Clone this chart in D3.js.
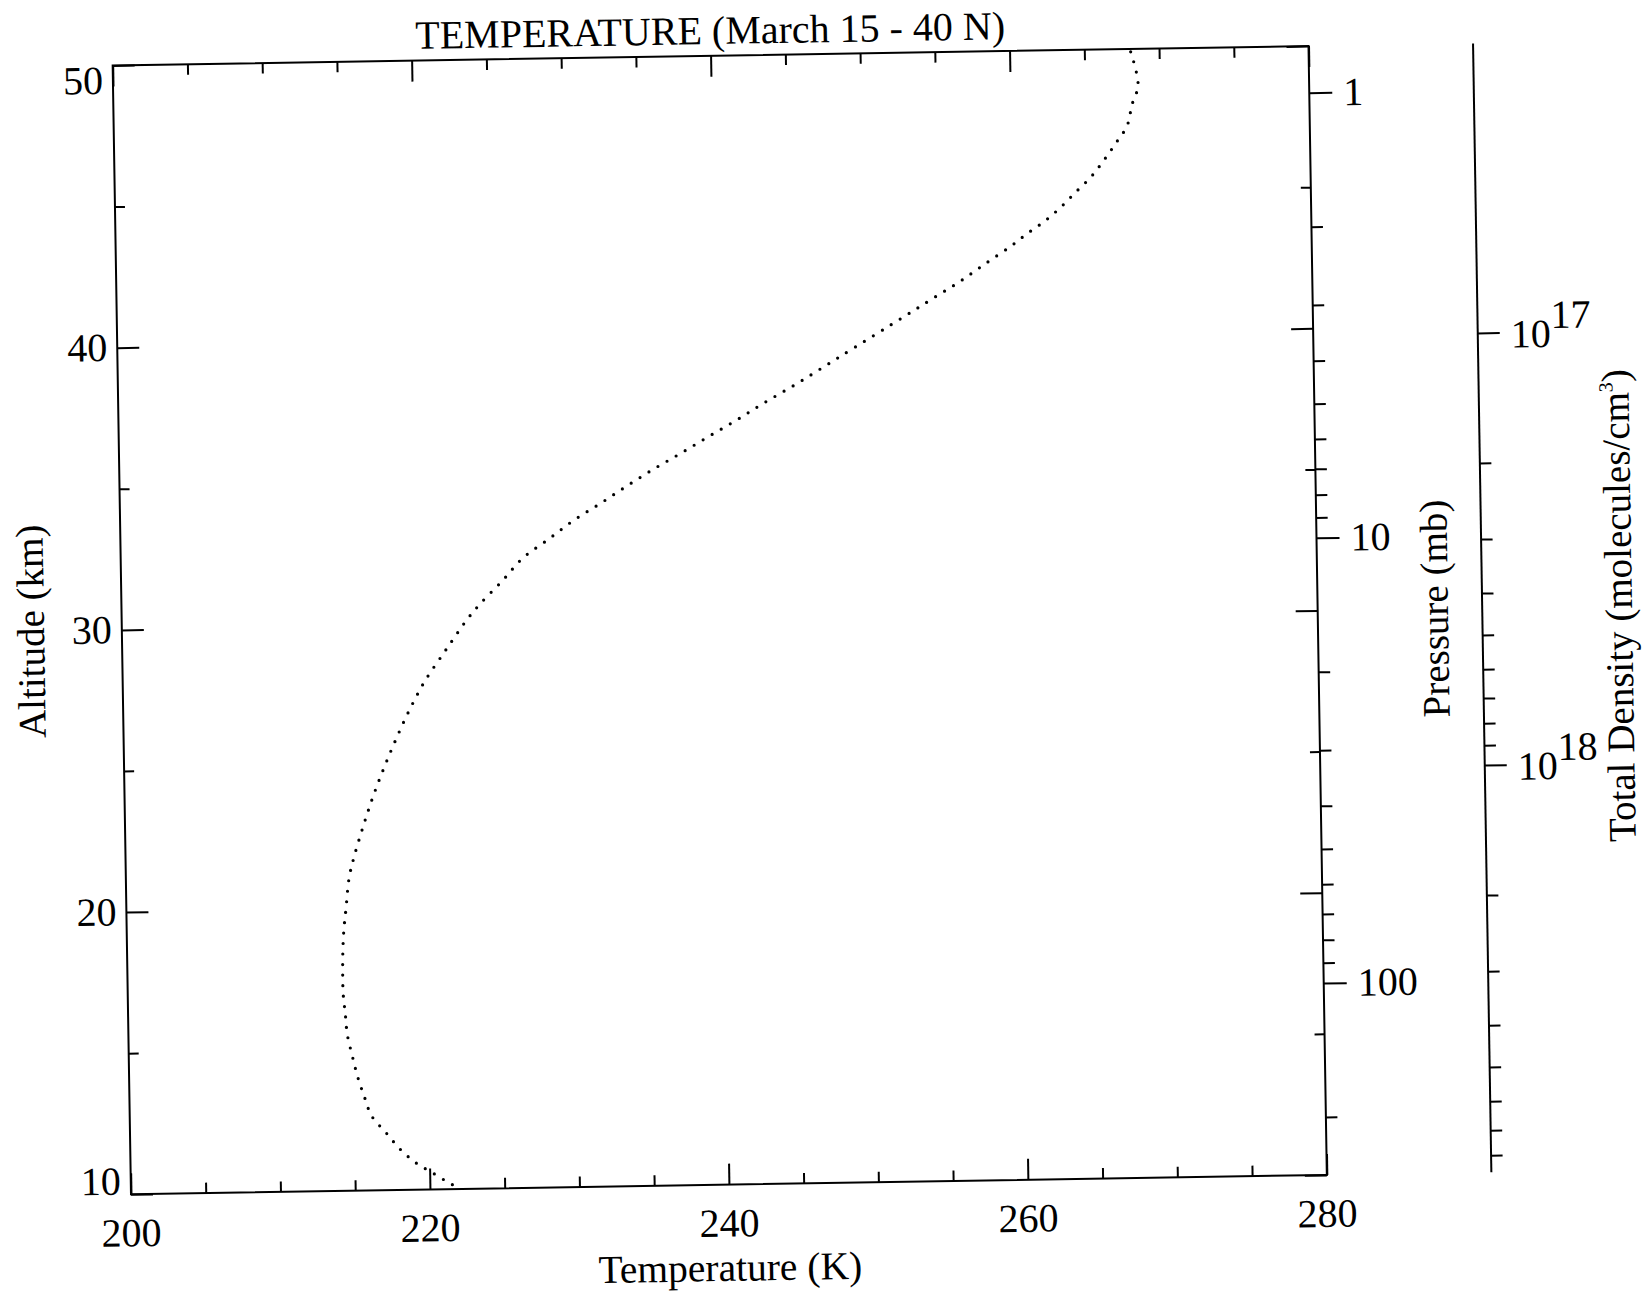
<!DOCTYPE html>
<html><head><meta charset="utf-8">
<script src="https://cdn.jsdelivr.net/npm/d3@7"></script>
<style>
html,body{margin:0;padding:0;background:#fff;}
svg{display:block;}
text{font-family:"Liberation Serif","Times New Roman",serif;fill:#000;}
</style></head><body>
<svg id="chart" width="1644" height="1298"></svg>
<script>
// ---------------- data ----------------
const titleText = "TEMPERATURE (March 15 - 40 N)";
const xLabel = "Temperature (K)";
const yLabel = "Altitude (km)";
const pLabel = "Pressure (mb)";
const dLabelMain = "Total Density (molecules/cm";
const dLabelSup = "3";

const altitude = [49.9, 48.72, 48.02, 47.28, 46.68, 46.08, 45.49, 44.97, 44.44, 43.96, 43.54, 43.09, 42.47, 41.84, 41.26, 40.67, 39.27, 38.36, 37.63, 37.05, 36.50, 35.94, 35.40, 34.81, 34.22, 33.63, 32.98, 32.32, 31.51, 30.71, 30.15, 29.53, 28.92, 28.02, 27.04, 26.02, 25.02, 23.98, 22.92, 21.85, 21.11, 20.00, 19.28, 18.56, 17.77, 16.98, 16.26, 15.54, 14.78, 14.03, 13.33, 12.64, 12.04, 11.45, 10.96, 10.57, 10.17, 10.0];
const temperature = [268.1, 268.56, 268.13, 267.78, 267.02, 266.2, 265.31, 264.29, 263.27, 262.19, 261.04, 259.89, 258.13, 256.37, 254.55, 252.72, 248.33, 245.49, 243.06, 241.24, 239.41, 237.59, 235.77, 233.94, 232.19, 230.36, 228.67, 226.91, 225.48, 223.98, 223.07, 222.22, 221.40, 220.22, 219.19, 218.26, 217.43, 216.64, 215.94, 215.30, 214.94, 214.69, 214.53, 214.44, 214.40, 214.41, 214.53, 214.64, 214.95, 215.29, 215.71, 216.18, 217.12, 218.04, 219.07, 220.24, 221.46, 222.1];

const tempDomain = [200, 280];
const tempMajorTicks = [200, 220, 240, 260, 280];
const tempMinorTicks = [205, 210, 215, 225, 230, 235, 245, 250, 255, 265, 270, 275];
const altDomain = [10, 50];
const altMajorTicks = [10, 20, 30, 40, 50];
const altMinorTicks = [15, 25, 35, 45];

const pressureAnchor = [1, 100];          // mb
const pressureAnchorAlt = [48.35, 16.80]; // km where those pressures sit
const pressureMajorTicks = [1, 10, 100];
const pressureMinorTicks = [2, 3, 4, 5, 6, 7, 8, 9, 20, 30, 40, 50, 60, 70, 80, 90, 200];

const densityAnchor = [1e17, 1e18];
const densityAnchorAlt = [39.74, 24.43];
const densityMajorTicks = [1e17, 1e18];
const densityMajorExp = ["17", "18"];
const densityMinorTicks = [2e17, 3e17, 4e17, 5e17, 6e17, 7e17, 8e17, 9e17, 2e18, 3e18, 4e18, 5e18, 6e18, 7e18, 8e18];

// ---------------- layout ----------------
const L = 121.75, R = 1317.75, T = 55.7, B = 1184.7;
const CX = 719.75, CY = 620.2, TILT = -0.93;
const DX = 1482.3;
const FS = 40;

const svg = d3.select("#chart");
const root = svg.append("g").attr("transform", `rotate(${TILT},${CX},${CY})`);

const x = d3.scaleLinear().domain(tempDomain).range([L, R]);
const y = d3.scaleLinear().domain(altDomain).range([B, T]);
const yP = d3.scaleLog().domain(pressureAnchor).range(pressureAnchorAlt.map(y));
const yD = d3.scaleLog().domain(densityAnchor).range(densityAnchorAlt.map(y));

function tickAxis(axisFn, scale, values, size, tx, ty) {
  const g = root.append("g").attr("transform", `translate(${tx},${ty})`);
  g.call(axisFn(scale).tickValues(values).tickSize(size).tickSizeOuter(0).tickFormat(""));
  g.select(".domain").remove();
  g.selectAll(".tick line").attr("stroke", "#000").attr("stroke-width", 2);
  return g;
}

// frame
root.append("rect").attr("x", L).attr("y", T).attr("width", R - L).attr("height", B - T)
  .attr("fill", "none").attr("stroke", "#000").attr("stroke-width", 2);

// bottom / top temperature ticks (inward)
tickAxis(d3.axisTop, x, tempMajorTicks, 21, 0, B);
tickAxis(d3.axisTop, x, tempMinorTicks, 10.5, 0, B);
tickAxis(d3.axisBottom, x, tempMajorTicks, 21, 0, T);
tickAxis(d3.axisBottom, x, tempMinorTicks, 10.5, 0, T);
// left / right altitude ticks (inward)
tickAxis(d3.axisRight, y, altMajorTicks, 22, L, 0);
tickAxis(d3.axisRight, y, altMinorTicks, 10, L, 0);
tickAxis(d3.axisLeft, y, altMajorTicks, 22, R, 0);
tickAxis(d3.axisLeft, y, altMinorTicks, 10, R, 0);
// pressure ticks (outward on right edge)
tickAxis(d3.axisRight, yP, pressureMajorTicks, 23, R, 0);
tickAxis(d3.axisRight, yP, pressureMinorTicks, 11.5, R, 0);
// density axis
root.append("line").attr("x1", DX).attr("x2", DX).attr("y1", T).attr("y2", B)
  .attr("stroke", "#000").attr("stroke-width", 2);
tickAxis(d3.axisRight, yD, densityMajorTicks, 22, DX, 0);
tickAxis(d3.axisRight, yD, densityMinorTicks, 11.5, DX, 0);

// tick labels
const capMid = 0.33 * FS;
altMajorTicks.forEach(v => {
  let cyv = y(v);
  if (v === altDomain[1]) cyv += 15;
  if (v === altDomain[0]) cyv -= 13;
  root.append("text").attr("x", L - 10).attr("y", cyv + capMid)
    .attr("text-anchor", "end").attr("font-size", FS).text(v);
});
tempMajorTicks.forEach(v => {
  root.append("text").attr("x", x(v)).attr("y", B + 52)
    .attr("text-anchor", "middle").attr("font-size", FS).text(v);
});
pressureMajorTicks.forEach(v => {
  root.append("text").attr("x", R + 34).attr("y", yP(v) + capMid)
    .attr("text-anchor", "start").attr("font-size", FS).text(v);
});
densityMajorTicks.forEach((v, i) => {
  const t = root.append("text").attr("x", DX + 33).attr("y", yD(v) + 2 + capMid)
    .attr("text-anchor", "start").attr("font-size", FS);
  t.append("tspan").text("10");
  t.append("tspan").attr("dy", -19).attr("font-size", FS).text(densityMajorExp[i]);
});

// titles
root.append("text").attr("x", CX).attr("y", 44).attr("text-anchor", "middle")
  .attr("font-size", 40).text(titleText);
root.append("text").attr("x", CX).attr("y", 1281).attr("text-anchor", "middle")
  .attr("font-size", 39.5).text(xLabel);
root.append("text").attr("transform", `translate(44,${CY}) rotate(-90)`)
  .attr("text-anchor", "middle").attr("font-size", 39).text(yLabel);
root.append("text").attr("transform", `translate(1448,${CY}) rotate(-90)`)
  .attr("text-anchor", "middle").attr("font-size", 39).text(pLabel);
const dl = root.append("text").attr("transform", `translate(1632,${CY}) rotate(-90)`)
  .attr("text-anchor", "middle").attr("font-size", 39);
dl.append("tspan").text(dLabelMain);
dl.append("tspan").attr("dy", -16).attr("font-size", 20).text(dLabelSup);
dl.append("tspan").attr("dy", 16).text(")");

// temperature profile (dotted)
const pts = altitude.map((a, i) => [temperature[i], a]);
const line = d3.line().x(d => x(d[0])).y(d => y(d[1])).curve(d3.curveCatmullRom.alpha(0.5));
root.append("path").attr("d", line(pts)).attr("fill", "none").attr("stroke", "#000")
  .attr("stroke-width", 3.2).attr("stroke-linecap", "round").attr("stroke-dasharray", "0 10.5");
</script>
</body></html>
